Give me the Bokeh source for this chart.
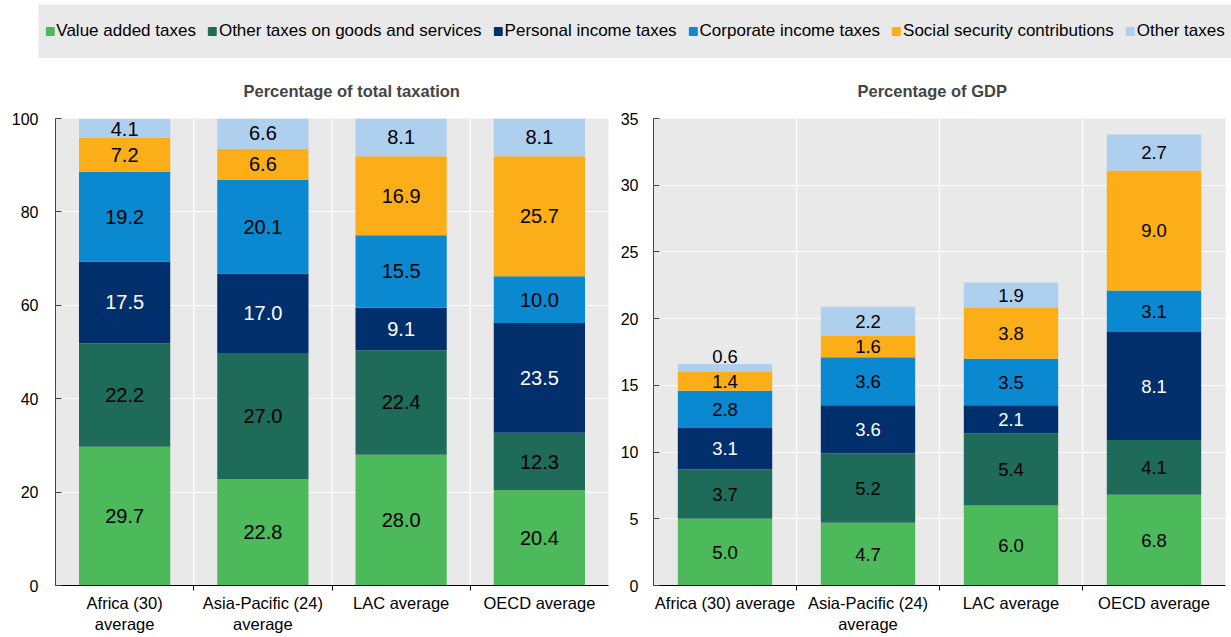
from bokeh.plotting import figure
from bokeh.models import (Legend, LegendItem, Span, Range1d, FactorRange, ColumnDataSource,
                          LinearAxis, CategoricalAxis, FixedTicker)
from bokeh.layouts import column, row
from bokeh.core.properties import value
from bokeh.embed import file_html
from bokeh.resources import INLINE

# ---------------- data ----------------
categories = ["Africa (30) average", "Asia-Pacific (24) average", "LAC average", "OECD average"]
left_tick_labels = ["Africa (30)\naverage", "Asia-Pacific (24)\naverage", "LAC average", "OECD average"]
right_tick_labels = ["Africa (30) average", "Asia-Pacific (24)\naverage", "LAC average", "OECD average"]
series = ["Value added taxes", "Other taxes on goods and services", "Personal income taxes",
          "Corporate income taxes", "Social security contributions", "Other taxes"]
colors = ["#4cb95a", "#1f6b59", "#002f6c", "#0a88d0", "#fbae17", "#aecfee"]

# Percentage of total taxation
vat_total = [29.7, 22.8, 28.0, 20.4]
otg_total = [22.2, 27.0, 22.4, 12.3]
pit_total = [17.5, 17.0, 9.1, 23.5]
cit_total = [19.2, 20.1, 15.5, 10.0]
ssc_total = [7.2, 6.6, 16.9, 25.7]
oth_total = [4.1, 6.6, 8.1, 8.1]

# Percentage of GDP
vat_gdp = [5.0, 4.7, 6.0, 6.8]
otg_gdp = [3.7, 5.2, 5.4, 4.1]
pit_gdp = [3.1, 3.6, 2.1, 8.1]
cit_gdp = [2.8, 3.6, 3.5, 3.1]
ssc_gdp = [1.4, 1.6, 3.8, 9.0]
oth_gdp = [0.6, 2.2, 1.9, 2.7]

FONT = "'Liberation Sans', Arial, sans-serif"
BG = "#e9e9e9"


def make_panel(title, vals, labels, ymax, ystep, label_size, fw, bl, br, title_left, ystandoff):
    keys = ["s%d" % i for i in range(len(series))]
    data = {"cat": labels}
    for k, v in zip(keys, vals):
        data[k] = v
    src = ColumnDataSource(data)
    p = figure(x_range=FactorRange(*labels, range_padding=0),
               y_range=Range1d(0, ymax),
               x_axis_location=None,
               frame_width=fw, frame_height=467,
               min_border_left=bl, min_border_right=br, min_border_top=60, min_border_bottom=52,
               toolbar_location=None, output_backend="svg", title=title)
    p.title.align = "left"
    p.title.offset = title_left
    p.title.text_font = FONT
    p.title.text_font_size = "16.5px"
    p.title.text_font_style = "bold"
    p.title.standoff = 37
    p.background_fill_color = BG
    p.outline_line_color = None
    p.vbar_stack(keys, x="cat", width=0.66, color=colors, line_color=None, source=src)

    # value labels
    xs, ys, txt, tcol, base = [], [], [], [], []
    cum = [0.0] * len(labels)
    for si, v in enumerate(vals):
        for ci, val in enumerate(v):
            lo = cum[ci]
            hi = lo + val
            cum[ci] = hi
            xs.append(labels[ci])
            txt.append("%.1f" % val)
            tcol.append("#ffffff" if si == 2 else "#000000")
            if val < 1.0:
                ys.append(hi + ymax * 0.003)
                base.append("bottom")
            else:
                ys.append((lo + hi) / 2)
                base.append("middle")
    lsrc = ColumnDataSource(dict(x=xs, y=ys, t=txt, c=tcol, b=base))
    p.text(x="x", y="y", text="t", text_color="c", text_baseline="b", text_align="center",
           text_font=value(FONT), text_font_size=label_size, source=lsrc)

    # x axes: separator ticks (closest to frame) then category labels
    seps = list(range(1, len(labels)))
    sep = LinearAxis(ticker=FixedTicker(ticks=seps),
                     major_label_overrides={s: "" for s in seps},
                     major_tick_in=0, major_tick_out=5, minor_tick_line_color=None,
                     major_label_text_font_size="6px", major_label_standoff=0,
                     axis_line_color="#000000", major_tick_line_color="#000000")
    p.add_layout(sep, "below")
    cax = CategoricalAxis(axis_line_color=None, major_tick_line_color=None,
                          major_label_text_font=FONT, major_label_text_font_size="16.5px",
                          major_label_text_color="#000000", major_label_standoff=-3)
    p.add_layout(cax, "below")

    # y axis
    p.yaxis.ticker = list(range(0, ymax + 1, ystep))
    p.yaxis.major_tick_in = 6
    p.yaxis.major_tick_out = 0
    p.yaxis.minor_tick_line_color = None
    p.yaxis.axis_line_color = "#444444"
    p.yaxis.major_tick_line_color = "#444444"
    p.yaxis.major_label_text_font = FONT
    p.yaxis.major_label_text_font_size = "16px"
    p.yaxis.major_label_text_color = "#000000"
    p.yaxis.major_label_standoff = ystandoff
    p.xgrid.grid_line_color = None
    p.ygrid.grid_line_color = "#ffffff"
    p.ygrid.grid_line_width = 1.2
    for loc in seps:
        p.add_layout(Span(location=loc, dimension="height", line_color="#ffffff", line_width=1.2,
                          level="underlay"))
    return p


left = make_panel("Percentage of total taxation",
                  [vat_total, otg_total, pit_total, cit_total, ssc_total, oth_total],
                  left_tick_labels, 100, 20, "20px", 553, 55, 9, 188, 17)
right = make_panel("Percentage of GDP",
                   [vat_gdp, otg_gdp, pit_gdp, cit_gdp, ssc_gdp, oth_gdp],
                   right_tick_labels, 35, 5, "18.5px", 572, 34, 6, 204, 15)

# legend strip
lg = figure(width=1231, height=58, x_range=Range1d(0, 1), y_range=Range1d(0, 1),
            min_border_left=38, min_border_right=0, min_border_top=4, min_border_bottom=0,
            toolbar_location=None, output_backend="svg")
lg.background_fill_color = BG
lg.outline_line_color = None
lg.axis.visible = False
lg.grid.visible = False
items = []
for name, col in zip(series, colors):
    r = lg.vbar(x=[-5], top=[-5], bottom=[-6], width=0.1, fill_color=col, line_color=col)
    items.append(LegendItem(label=name, renderers=[r]))
legend = Legend(items=items, orientation="horizontal", location="center",
                background_fill_alpha=0, border_line_color=None,
                label_text_font=FONT, label_text_font_size="17px", label_text_color="#000000",
                glyph_width=10, glyph_height=10, label_standoff=2, spacing=11,
                padding=0, margin=0)
lg.add_layout(legend, "center")

layout = column(lg, row(left, right, spacing=0), spacing=0)
open("out.html", "w").write(file_html(layout, INLINE))
